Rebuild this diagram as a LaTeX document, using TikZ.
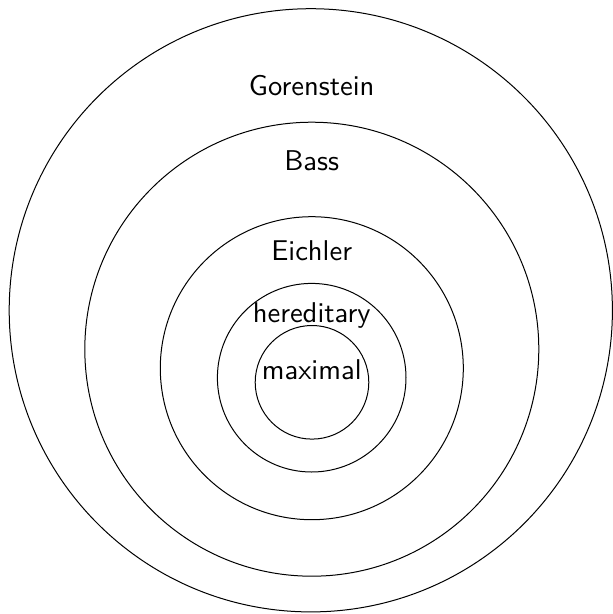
\documentclass[tikz,border=0pt]{standalone}
\usepackage{fontspec}
\newfontfamily\lmsten[Extension=.otf]{lmsans10-regular}
\begin{document}
\begin{tikzpicture}[x=1pt,y=-1pt,
  ring/.style={draw=black,line width=1pt},
  lbl/.style={anchor=base,inner sep=0pt,font=\lmsten\fontsize{28.6}{34}\selectfont}]
\useasboundingbox (0,0) rectangle (613,614);
\coordinate (c5) at (310.8,310.3);
\coordinate (c4) at (311.8,349.2);
\coordinate (c3) at (311.8,368.2);
\coordinate (c2) at (311.7,377.7);
\coordinate (c1) at (312,382.3);
\draw[ring] (c5) circle[radius=301.6];
\draw[ring] (c4) circle[radius=227];
\draw[ring] (c3) circle[radius=151.5];
\draw[ring] (c2) circle[radius=94.3];
\draw[ring] (c1) circle[radius=56.8];
\node[lbl] (gor) at (311.7,95.1) {Gorenstein};
\node[lbl] (bass) at (311.7,170.7) {Bass};
\node[lbl] (eich) at (311.7,260.7) {Eichler};
\node[lbl] (her) at (311.7,322.7) {hereditary};
\node[lbl] (max) at (311.7,379) {maximal};
\end{tikzpicture}
\end{document}
